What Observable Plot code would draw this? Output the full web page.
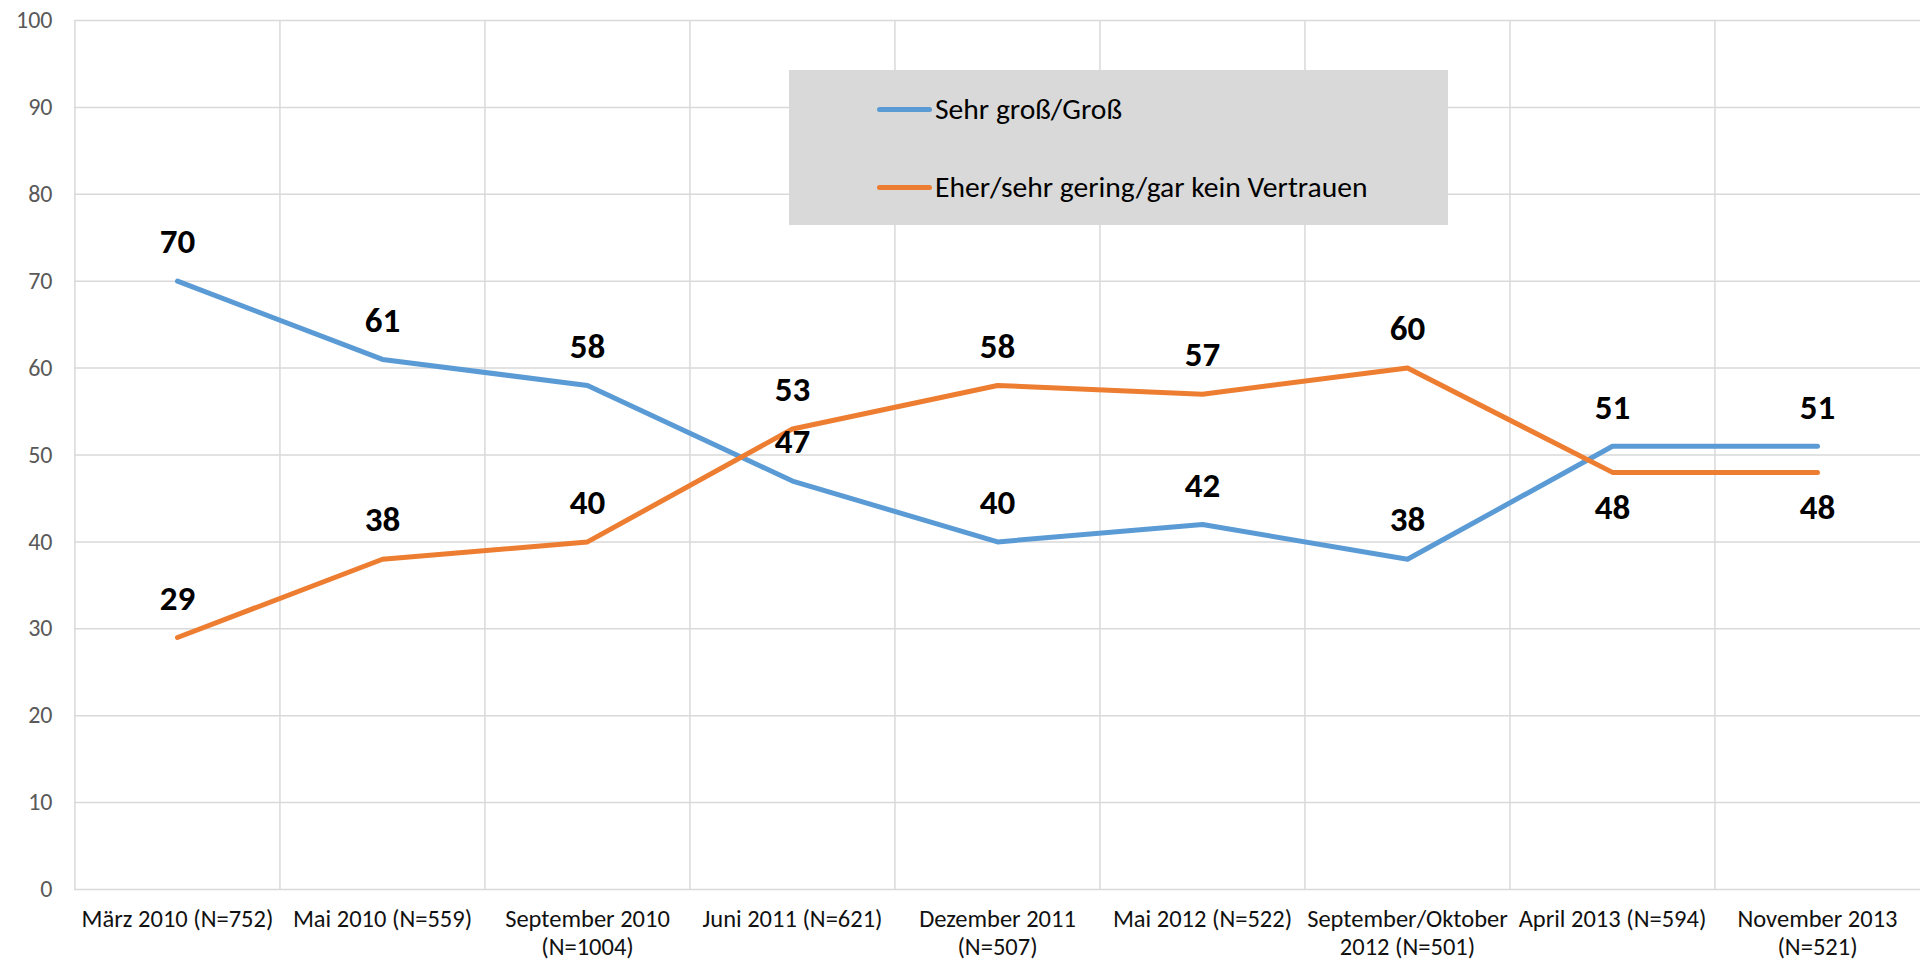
<!DOCTYPE html>
<html>
<head>
<meta charset="utf-8">
<script src="https://cdn.jsdelivr.net/npm/d3@7"></script>
<script src="https://cdn.jsdelivr.net/npm/@observablehq/plot@0.6"></script>
<style>
  html, body { margin: 0; padding: 0; background: #fff; }
  #wrap { position: relative; width: 1920px; height: 962px; font-family: Carlito, Calibri, Lato, sans-serif; }
  #legend { position: absolute; left: 789px; top: 70px; width: 659px; height: 155px; background: #d9d9d9; }
  .lg-row { position: absolute; left: 88px; display: flex; align-items: center; font-size: 29.6px; color: #000; white-space: nowrap; }
  .lg-sw { width: 55px; height: 5px; border-radius: 3px; margin-right: 3px; }
</style>
</head>
<body>
<div id="wrap"></div>
<script>
const categories = [
  "März 2010 (N=752)",
  "Mai 2010 (N=559)",
  "September 2010\n(N=1004)",
  "Juni 2011 (N=621)",
  "Dezember 2011\n(N=507)",
  "Mai 2012 (N=522)",
  "September/Oktober\n2012 (N=501)",
  "April 2013 (N=594)",
  "November 2013\n(N=521)"
];
const seriesNames = ["Sehr groß/Groß", "Eher/sehr gering/gar kein Vertrauen"];
const grossValues = [70, 61, 58, 47, 40, 42, 38, 51, 51];
const geringValues = [29, 38, 40, 53, 58, 57, 60, 48, 48];
const yTicks = [0, 10, 20, 30, 40, 50, 60, 70, 80, 90, 100];
const colors = ["#5B9BD5", "#ED7D31"];

const gross = categories.map((c, i) => ({cat: c, value: grossValues[i], i}));
const gering = categories.map((c, i) => ({cat: c, value: geringValues[i], i}));

const W = 1920, H = 962, ML = 74, MR = 0, MT = 20, MB = 73;
const step = (W - ML - MR) / categories.length;
const font = "Carlito, Calibri, Lato, sans-serif";

const chart = Plot.plot({
  width: W,
  height: H,
  marginLeft: ML,
  marginRight: MR,
  marginTop: MT,
  marginBottom: MB,
  style: {fontFamily: font, background: "transparent", overflow: "visible"},
  x: {type: "point", domain: categories, padding: 0.5},
  y: {domain: [0, 100]},
  marks: [
    Plot.ruleY(yTicks, {stroke: "#d9d9d9", strokeWidth: 1.5}),
    Plot.ruleX(categories, {x: d => d, dx: -step / 2, stroke: "#d9d9d9", strokeWidth: 1.5}),
    Plot.axisY({ticks: yTicks, tickSize: 0, tickPadding: 22, fontSize: 24, fill: "#595959", label: null}),
    Plot.axisX({tickSize: 0, tickPadding: 18, fontSize: 24.5, fill: "#111", label: null, lineHeight: 1.14}),
    Plot.line(gross, {x: "cat", y: "value", stroke: colors[0], strokeWidth: 5, strokeLinecap: "round", strokeLinejoin: "round"}),
    Plot.line(gering, {x: "cat", y: "value", stroke: colors[1], strokeWidth: 5, strokeLinecap: "round", strokeLinejoin: "round"}),
    Plot.text(gross, {x: "cat", y: "value", text: d => String(d.value), dy: -39, fontSize: 35, fontWeight: "bold", fill: "#000"}),
    Plot.text(gering, {filter: d => !(d.value < grossValues[d.i] && d.i >= 7), x: "cat", y: "value", text: d => String(d.value), dy: -39, fontSize: 35, fontWeight: "bold", fill: "#000"}),
    Plot.text(gering, {filter: d => (d.value < grossValues[d.i] && d.i >= 7), x: "cat", y: "value", text: d => String(d.value), dy: 35, fontSize: 35, fontWeight: "bold", fill: "#000"})
  ]
});

const wrap = document.getElementById("wrap");
wrap.appendChild(chart);

const legend = document.createElement("div");
legend.id = "legend";
const rowTops = [39, 117];
seriesNames.forEach((name, k) => {
  const row = document.createElement("div");
  row.className = "lg-row";
  row.style.top = (rowTops[k] - 18) + "px";
  row.style.height = "36px";
  const sw = document.createElement("div");
  sw.className = "lg-sw";
  sw.style.background = colors[k];
  const t = document.createElement("span");
  t.textContent = name;
  row.appendChild(sw);
  row.appendChild(t);
  legend.appendChild(row);
});
wrap.appendChild(legend);
</script>
</body>
</html>
